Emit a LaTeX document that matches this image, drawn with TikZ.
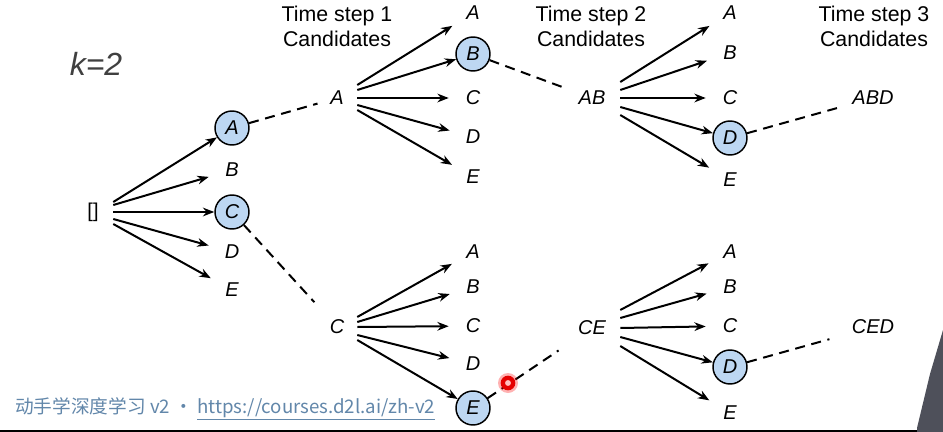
\documentclass[tikz,border=0pt]{standalone}
\usepackage{fontspec}
\setmainfont{Liberation Sans}
\newfontfamily\cjkfont{Noto Sans CJK SC}
\usetikzlibrary{arrows.meta}
\definecolor{selblue}{RGB}{189,215,242}
\definecolor{wmblue}{RGB}{98,135,170}
\definecolor{coat}{RGB}{78,80,90}
\begin{document}
\begin{tikzpicture}[x=0.75pt,y=-0.75pt,
  lfont/.style={font=\fontsize{15}{17}\selectfont\itshape},
  lbl/.style={circle, minimum size=36pt, inner sep=0pt, lfont},
  srcone/.style={circle, minimum size=30pt, inner sep=0pt, lfont},
  srctwo/.style={circle, minimum size=42pt, inner sep=0pt, lfont},
  finnode/.style={circle, minimum size=52.5pt, inner sep=0pt, lfont},
  sel/.style={circle, draw=black, line width=1.1pt, fill=selblue, minimum size=25.5pt, inner sep=0pt, lfont},
  arr/.style={-{Stealth[length=8.5pt,width=6.5pt]}, line width=1.5pt},
  dsh/.style={dash pattern=on 7.5pt off 5pt, line width=1.5pt},
  hdr/.style={align=center, font=\fontsize{16}{18.75}\selectfont}
]
\fill[white] (0,0) rectangle (943,432);
\useasboundingbox (0,0) rectangle (943,432);

% headers
\node[anchor=base] (k) at (96,75) {\fontsize{24}{28}\selectfont\color[gray]{0.25}\itshape k=2};
\node[hdr] (h1) at (337,26) {Time step 1\\Candidates};
\node[hdr] (h2) at (591,26) {Time step 2\\Candidates};
\node[hdr] (h3) at (874,26) {Time step 3\\Candidates};

% root and level 1
\node[srcone, font=\fontsize{15}{17}\selectfont] (r) at (93,212) {[]};
\node[sel] (sA) at (232,128) {A};
\node[lbl] (b1) at (232,170) {B};
\node[sel] (sC) at (232,212) {C};
\node[lbl] (d1) at (232,252) {D};
\node[lbl] (e1) at (232,290) {E};
\draw[arr] ([yshift=7.5pt]r.east) -- (sA);
\draw[arr] ([yshift=5.25pt]r.east) -- (b1);
\draw[arr] (r.east) -- (sC);
\draw[arr] ([yshift=-5.25pt]r.east) -- (d1);
\draw[arr] ([yshift=-9pt]r.east) -- (e1);

% top branch
\node[srcone] (pA) at (337,98) {A};
\draw[dsh] (sA) -- (pA);
\node[lbl] (ta2) at (473,13) {A};
\node[sel] (sB) at (473,54) {B};
\node[lbl] (tc2) at (473,98) {C};
\node[lbl] (td2) at (473,137) {D};
\node[lbl] (te2) at (473,177) {E};
\draw[arr] ([yshift=9.75pt]pA.east) -- (ta2);
\draw[arr] ([yshift=6pt]pA.east) -- (sB);
\draw[arr] (pA.east) -- (tc2);
\draw[arr] ([yshift=-5.25pt]pA.east) -- (td2);
\draw[arr] ([yshift=-9pt]pA.east) -- (te2);

\node[srctwo] (pAB) at (592,98) {AB};
\draw[dsh] (sB) -- (pAB);
\node[lbl] (ta3) at (730,13) {A};
\node[lbl] (tb3) at (730,53) {B};
\node[lbl] (tc3) at (730,98) {C};
\node[sel] (sD) at (730,138) {D};
\node[lbl] (te3) at (730,180) {E};
\draw[arr] ([yshift=12pt]pAB.east) -- (ta3);
\draw[arr] ([yshift=6pt]pAB.east) -- (tb3);
\draw[arr] (pAB.east) -- (tc3);
\draw[arr] ([yshift=-6.75pt]pAB.east) -- (sD);
\draw[arr] ([yshift=-12.75pt]pAB.east) -- (te3);
\node[finnode] (pABD) at (873,98) {ABD};
\draw[dsh] (sD) -- (pABD);

% bottom branch
\node[srcone] (pC) at (337,327) {C};
\draw[dsh, shorten >=10pt] (sC) -- (pC);
\node[lbl] (ba2) at (473,252) {A};
\node[lbl] (bb2) at (473,287) {B};
\node[lbl] (bc2) at (473,326) {C};
\node[lbl] (bd2) at (473,364) {D};
\node[sel] (sE) at (473,408) {E};
\draw[arr] ([yshift=7.5pt]pC.east) -- (ba2);
\draw[arr] ([yshift=3.75pt]pC.east) -- (bb2);
\draw[arr] (pC.east) -- (bc2);
\draw[arr] ([yshift=-6pt]pC.east) -- (bd2);
\draw[arr] ([yshift=-9.75pt]pC.east) -- (sE);

\node[srctwo] (pCE) at (592,328) {CE};
\draw[dsh, shorten >=9pt] (sE) -- (pCE);
\node[lbl] (ba3) at (730,252) {A};
\node[lbl] (bb3) at (730,287) {B};
\node[lbl] (bc3) at (730,326) {C};
\node[sel] (sD2) at (730,367) {D};
\node[lbl] (be3) at (730,413) {E};
\draw[arr] ([yshift=13.5pt]pCE.east) -- (ba3);
\draw[arr] ([yshift=7.5pt]pCE.east) -- (bb3);
\draw[arr] (pCE.east) -- (bc3);
\draw[arr] ([yshift=-6.75pt]pCE.east) -- (sD2);
\draw[arr] ([yshift=-13.5pt]pCE.east) -- (be3);
\node[finnode] (pCED) at (873,327) {CED};
\draw[dsh, shorten >=7.5pt] (sD2) -- (pCED);

% pointer dot
\fill[red, opacity=0.3] (508,383) circle[radius=7.5pt];
\fill[red!90!black] (508,383) circle[radius=5.5pt];
\fill[white!75!red] (508,383) circle[radius=2.2pt];

% watermark
\node[anchor=base west, inner sep=0pt, text=wmblue, font=\cjkfont\fontsize{14}{16}\selectfont] (wm) at (15,413) {动手学深度学习 v2 · \underline{https://courses.d2l.ai/zh-v2}};

% frame edge and presenter
\fill[black] (0,429.5) rectangle (943,432);
\fill[coat] (917,428) -- (930,374) -- (943,330) -- (943,432) -- (917,432) -- cycle;
\end{tikzpicture}
\end{document}
